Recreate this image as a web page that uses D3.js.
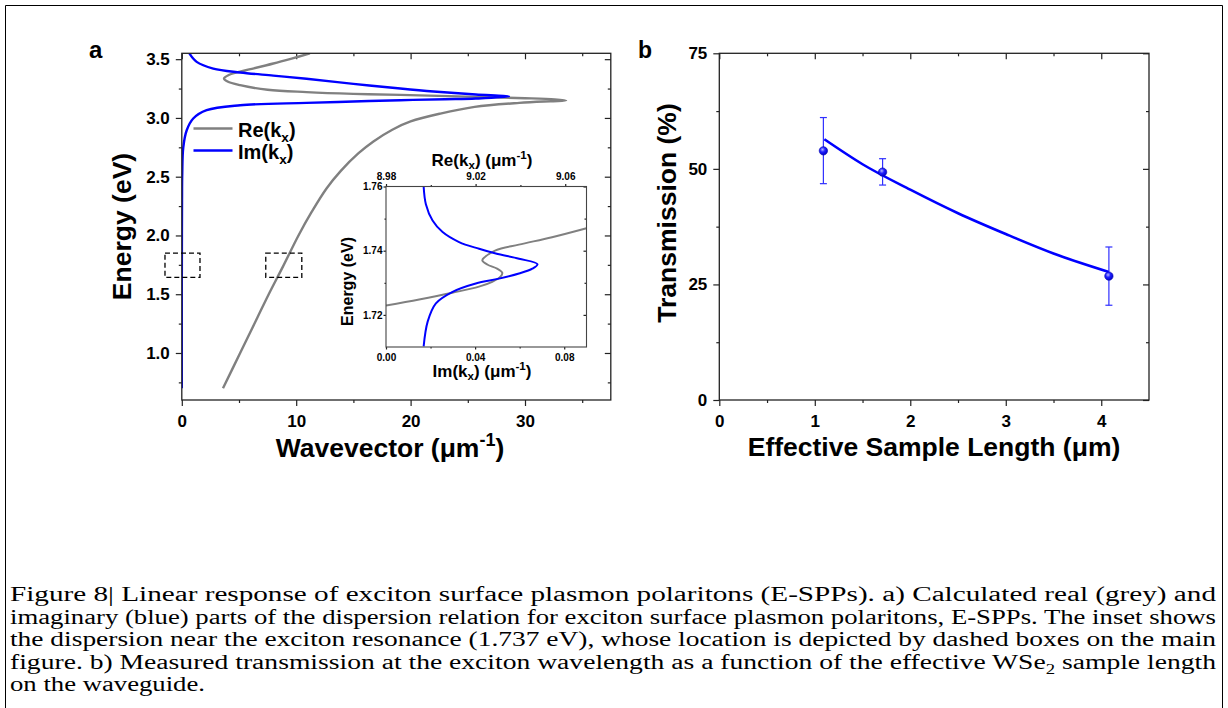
<!DOCTYPE html>
<html lang="en">
<head>
<meta charset="UTF-8">
<title>E-SPP dispersion and transmission</title>
<script src="https://d3js.org/d3.v7.min.js"></script>
<style>
    body { margin: 0; background: #fff; }
    svg text { font-family: "Liberation Sans", Arial, sans-serif; font-weight: bold; fill: #000; }
    svg text.caption { font-family: "Liberation Serif", "Times New Roman", serif; font-weight: normal; }
</style>
</head>
<body>
<svg width="1228" height="708"></svg>
<script>
// ---- panel a: dispersion, [k (um^-1), E (eV)]
const reMain = [[3.6,0.70],[5.1,1.0],[6.6,1.3],[7.6,1.5],[8.85,1.737],[10.2,2.0],[11.35,2.2],[12.65,2.4],
    [13.9,2.55],[15.45,2.7],[16.75,2.8],[18.4,2.9],[20.0,2.97],[22.6,3.037],[25.6,3.094],[29.5,3.128],
    [32.2,3.142],[33.6,3.148],
    [32.6,3.158],[30.0,3.168],[25.7,3.179],[19.1,3.196],[15.0,3.205],[10.9,3.22],[7.5,3.24],[5.1,3.279],
    [4.0,3.31],[3.69,3.336],[4.1,3.365],[4.8,3.387],[6.0,3.415],[8.0,3.463],[9.6,3.505],[11.2,3.549]];
const imMain = [[0.0,0.70],[0.0,1.5],[0.01,2.0],[0.02,2.3],[0.04,2.53],[0.13,2.75],[0.43,2.895],[1.0,2.995],
    [2.17,3.066],[5.1,3.108],[10.9,3.128],[15.0,3.14],[19.1,3.151],[23.0,3.159],[25.7,3.165],[28.6,3.182],
    [25.7,3.20],[22.0,3.225],[19.1,3.25],[15.0,3.29],[10.9,3.333],[8.0,3.36],[5.1,3.387],[2.75,3.42],
    [1.3,3.477],[0.66,3.549]];
const boxK = [[-1.47, 1.59], [7.34, 10.49]];
const boxE = [1.643, 1.85];
const aXMajor = [0, 10, 20, 30], aXMinor = [5, 15, 25, 35];
const aYMajor = [1.0, 1.5, 2.0, 2.5, 3.0, 3.5], aYMinor = [0.75, 1.25, 1.75, 2.25, 2.75, 3.25];

// ---- inset: [Re or Im k, E]
const reInset = [[8.98,1.7229],[8.9948,1.7248],[9.0096,1.7269],[9.0215,1.7288],[9.0274,1.7303],[9.0311,1.7319],
    [9.0319,1.7331],[9.0296,1.7344],[9.0252,1.7357],[9.023,1.737],[9.0241,1.738],[9.0289,1.7401],
    [9.0393,1.7419],[9.0541,1.7442],[9.0695,1.747]];
const imInset = [[0.0169,1.7102],[0.0187,1.7179],[0.0224,1.7236],[0.0299,1.7272],[0.0403,1.7298],[0.0507,1.7313],
    [0.0597,1.7329],[0.0657,1.7344],[0.068,1.7358],[0.0597,1.7375],[0.0493,1.7391],[0.0418,1.7406],
    [0.0328,1.7427],[0.0254,1.7458],[0.0209,1.7494],[0.0179,1.7545],[0.0169,1.76]];
const inImTicks = [0, 0.04, 0.08], inImMinor = [0.02, 0.06];
const inReTicks = [8.98, 9.02, 9.06], inReMinor = [9.00, 9.04];
const inETicks = [1.72, 1.74, 1.76], inEMinor = [1.73, 1.75];

// ---- panel b: transmission vs effective length
const lengths = [1.09, 1.71, 4.08];
const transmission = [53.9, 49.3, 26.8];
const errHigh = [61.1, 52.2, 33.1];
const errLow = [46.8, 46.5, 20.5];
const fitX = [1.1, 1.5, 2.0, 2.5, 3.0, 3.5, 4.08];
const fitY = [56.4, 51.0, 45.5, 40.4, 35.9, 31.7, 27.7];
const bXMajor = [0, 1, 2, 3, 4], bXMinor = [0.5, 1.5, 2.5, 3.5];
const bYMajor = [0, 25, 50, 75], bYMinor = [12.5, 37.5, 62.5];

// ---- caption
const captionLines = [
    [["Figure 8| Linear response of exciton surface plasmon polaritons (E-SPPs). a) Calculated real (grey) and"]],
    [["imaginary (blue) parts of the dispersion relation for exciton surface plasmon polaritons, E-SPPs. The inset shows"]],
    [["the dispersion near the exciton resonance (1.737 eV), whose location is depicted by dashed boxes on the main"]],
    [["figure. b) Measured transmission at the exciton wavelength as a function of the effective WSe"], ["2", "sub"], [" sample length"]],
    [["on the waveguide."]]
];

const svg = d3.select("svg");
const GREY = "#808080", BLUE = "#0000ff", AX = "#222";

function axis(parent, gen, tx, ty, values, size, pad, fmt, fs) {
    const g = parent.append("g").attr("transform", `translate(${tx},${ty})`)
        .call(gen.tickValues(values).tickSize(size).tickSizeOuter(0).tickPadding(pad)
            .tickFormat(fmt || (() => "")));
    g.select(".domain").remove();
    g.attr("font-family", null).attr("font-size", null);
    g.selectAll("line").attr("stroke", AX).attr("stroke-width", 1.2);
    g.selectAll("text").style("font-size", (fs || 10) + "px");
    return g;
}

function rich(t, parts, fs, subShift) {
    let shift = 0;
    parts.forEach(([s, kind]) => {
        const target = kind === "sup" ? -0.4 * fs : kind === "sub" ? (subShift || 0.25) * fs : 0;
        t.append("tspan").attr("dy", target - shift)
            .style("font-size", (kind ? fs * 0.68 : fs) + "px").text(s);
        shift = target;
    });
    return t;
}

// ================= panel a =================
const xA = d3.scaleLinear().domain([0, 37.5]).range([181.8, 610.8]);
const yA = d3.scaleLinear().domain([0.6, 3.55]).range([400, 53.3]);
const gA = svg.append("g");
gA.append("clipPath").attr("id", "clipA").append("rect")
    .attr("x", xA.range()[0]).attr("y", yA.range()[1])
    .attr("width", xA.range()[1] - xA.range()[0]).attr("height", yA.range()[0] - yA.range()[1]);

axis(gA, d3.axisBottom(xA), 0, 400, aXMajor, 6, 9, d3.format("d"), 17);
axis(gA, d3.axisBottom(xA), 0, 400, aXMinor, 3, 0);
axis(gA, d3.axisTop(xA), 0, 53.3, aXMajor, -6, 0);
axis(gA, d3.axisTop(xA), 0, 53.3, aXMinor, -3, 0);
axis(gA, d3.axisLeft(yA), 181.8, 0, aYMajor, 6, 6, d3.format(".1f"), 17);
axis(gA, d3.axisLeft(yA), 181.8, 0, aYMinor, 3, 0);
axis(gA, d3.axisRight(yA), 610.8, 0, aYMajor, -6, 0);
axis(gA, d3.axisRight(yA), 610.8, 0, aYMinor, -3, 0);

const lineA = d3.line().x(d => xA(d[0])).y(d => yA(d[1])).curve(d3.curveCatmullRom.alpha(0.5));
gA.append("path").attr("d", lineA(reMain)).attr("fill", "none").attr("stroke", GREY)
    .attr("stroke-width", 2.4).attr("clip-path", "url(#clipA)");
gA.append("path").attr("d", lineA(imMain)).attr("fill", "none").attr("stroke", BLUE)
    .attr("stroke-width", 2.4).attr("clip-path", "url(#clipA)");

gA.append("rect").attr("x", 181.8).attr("y", 53.3).attr("width", 429).attr("height", 346.7)
    .attr("fill", "none").attr("stroke", AX).attr("stroke-width", 1.3);

gA.selectAll(".dbox").data(boxK).join("rect").attr("class", "dbox")
    .attr("x", d => xA(d[0])).attr("width", d => xA(d[1]) - xA(d[0]))
    .attr("y", yA(boxE[1])).attr("height", yA(boxE[0]) - yA(boxE[1]))
    .attr("fill", "none").attr("stroke", "#000").attr("stroke-width", 1.3).attr("stroke-dasharray", "5,3");

// legend
const legA = [["Re", GREY, 128.5], ["Im", BLUE, 150.5]];
legA.forEach(([name, c, y]) => {
    gA.append("line").attr("x1", 193.5).attr("x2", 232.5).attr("y1", y).attr("y2", y)
        .attr("stroke", c).attr("stroke-width", 2.6);
    rich(gA.append("text").attr("x", 238).attr("y", y + 8), [[name + "(k"], ["x", "sub"], [")"]], 20);
});

gA.append("text").attr("x", 89).attr("y", 57.5).style("font-size", "24px").text("a");
rich(gA.append("text").attr("x", 390).attr("y", 457).attr("text-anchor", "middle"),
    [["Wavevector (μm"], ["-1", "sup"], [")"]], 26.5);
gA.append("text").attr("transform", "translate(131,226.5) rotate(-90)").attr("text-anchor", "middle")
    .style("font-size", "26.5px").text("Energy (eV)");

// ---- inset
const xI = d3.scaleLinear().domain([0, 0.09]).range([386, 586.5]);
const xIr = d3.scaleLinear().domain([8.98, 9.0695]).range([386, 586.5]);
const yI = d3.scaleLinear().domain([1.71, 1.76]).range([347, 186.5]);
const gI = svg.append("g");
gI.append("clipPath").attr("id", "clipI").append("rect")
    .attr("x", 386).attr("y", 186.5).attr("width", 200.5).attr("height", 160.5);
gI.append("rect").attr("x", 386).attr("y", 186.5).attr("width", 200.5).attr("height", 160.5).attr("fill", "#fff");

axis(gI, d3.axisBottom(xI), 0, 347, inImTicks, 2.5, 4, d3.format(".2f"), 10);
axis(gI, d3.axisBottom(xI), 0, 347, inImMinor, 1.5, 0);
axis(gI, d3.axisTop(xIr), 0, 186.5, inReTicks, 2.5, 4.5, d3.format(".2f"), 10);
axis(gI, d3.axisTop(xIr), 0, 186.5, inReMinor, 1.5, 0);
axis(gI, d3.axisLeft(yI), 386, 0, inETicks, 2.5, 1, d3.format(".2f"), 10);
axis(gI, d3.axisLeft(yI), 386, 0, inEMinor, 1.5, 0);
axis(gI, d3.axisRight(yI), 586.5, 0, inETicks, -3, 0);
axis(gI, d3.axisRight(yI), 586.5, 0, inEMinor, -2, 0);

const lineIr = d3.line().x(d => xIr(d[0])).y(d => yI(d[1])).curve(d3.curveCatmullRom.alpha(0.5));
const lineIi = d3.line().x(d => xI(d[0])).y(d => yI(d[1])).curve(d3.curveCatmullRom.alpha(0.5));
gI.append("path").attr("d", lineIr(reInset)).attr("fill", "none").attr("stroke", GREY)
    .attr("stroke-width", 2).attr("clip-path", "url(#clipI)");
gI.append("path").attr("d", lineIi(imInset)).attr("fill", "none").attr("stroke", BLUE)
    .attr("stroke-width", 2).attr("clip-path", "url(#clipI)");
gI.append("rect").attr("x", 386).attr("y", 186.5).attr("width", 200.5).attr("height", 160.5)
    .attr("fill", "none").attr("stroke", "#444").attr("stroke-width", 1.1);

rich(gI.append("text").attr("x", 482).attr("y", 166).attr("text-anchor", "middle"),
    [["Re(k"], ["x", "sub"], [") (μm"], ["-1", "sup"], [")"]], 17, 0.18);
rich(gI.append("text").attr("x", 482).attr("y", 377).attr("text-anchor", "middle"),
    [["Im(k"], ["x", "sub"], [") (μm"], ["-1", "sup"], [")"]], 17, 0.18);
gI.append("text").attr("transform", "translate(353,281.5) rotate(-90)").attr("text-anchor", "middle")
    .style("font-size", "16px").text("Energy (eV)");

// ================= panel b =================
const xB = d3.scaleLinear().domain([0, 4.5]).range([719.3, 1149]);
const yB = d3.scaleLinear().domain([0, 75]).range([400, 53.3]);
const gB = svg.append("g");

axis(gB, d3.axisBottom(xB), 0, 400, bXMajor, 6, 9, d3.format("d"), 17);
axis(gB, d3.axisBottom(xB), 0, 400, bXMinor, 3, 0);
axis(gB, d3.axisTop(xB), 0, 53.3, bXMajor, -6, 0);
axis(gB, d3.axisTop(xB), 0, 53.3, bXMinor, -3, 0);
axis(gB, d3.axisLeft(yB), 719.3, 0, bYMajor, 6, 6, d3.format("d"), 17);
axis(gB, d3.axisLeft(yB), 719.3, 0, bYMinor, 3, 0);
axis(gB, d3.axisRight(yB), 1149, 0, bYMajor, -6, 0);
axis(gB, d3.axisRight(yB), 1149, 0, bYMinor, -3, 0);
gB.append("rect").attr("x", 719.3).attr("y", 53.3).attr("width", 1149 - 719.3).attr("height", 346.7)
    .attr("fill", "none").attr("stroke", AX).attr("stroke-width", 1.3);

const fitLine = d3.line().x(d => xB(d[0])).y(d => yB(d[1])).curve(d3.curveMonotoneX);
gB.append("path").attr("d", fitLine(fitX.map((x, i) => [x, fitY[i]])))
    .attr("fill", "none").attr("stroke", BLUE).attr("stroke-width", 2.6);

const pts = lengths.map((x, i) => ({ x, y: transmission[i], hi: errHigh[i], lo: errLow[i] }));
const eb = gB.selectAll(".eb").data(pts).join("g").attr("class", "eb").attr("stroke", "#2f2fff").attr("stroke-width", 1.2);
eb.append("line").attr("x1", d => xB(d.x)).attr("x2", d => xB(d.x)).attr("y1", d => yB(d.hi)).attr("y2", d => yB(d.lo));
eb.append("line").attr("x1", d => xB(d.x) - 3.5).attr("x2", d => xB(d.x) + 3.5).attr("y1", d => yB(d.hi)).attr("y2", d => yB(d.hi));
eb.append("line").attr("x1", d => xB(d.x) - 3.5).attr("x2", d => xB(d.x) + 3.5).attr("y1", d => yB(d.lo)).attr("y2", d => yB(d.lo));

const grad = svg.append("defs").append("radialGradient").attr("id", "sphere")
    .attr("cx", "40%").attr("cy", "35%").attr("r", "65%");
grad.append("stop").attr("offset", "0%").attr("stop-color", "#b8b8ff");
grad.append("stop").attr("offset", "45%").attr("stop-color", "#2020ff");
grad.append("stop").attr("offset", "100%").attr("stop-color", "#0000c8");
gB.selectAll(".pt").data(pts).join("circle").attr("class", "pt")
    .attr("cx", d => xB(d.x)).attr("cy", d => yB(d.y)).attr("r", 4.2)
    .attr("fill", "url(#sphere)").attr("stroke", "#0000b0").attr("stroke-width", 0.6);

gB.append("text").attr("x", 638).attr("y", 57.5).style("font-size", "23px").text("b");
gB.append("text").attr("x", 934).attr("y", 456).attr("text-anchor", "middle")
    .style("font-size", "26.5px").text("Effective Sample Length (μm)");
gB.append("text").attr("transform", "translate(675.5,213) rotate(-90)").attr("text-anchor", "middle")
    .style("font-size", "26.5px").text("Transmission (%)");

// ================= caption & frame =================
svg.append("path").attr("d", "M5.5,720V5.5H1222.5V720").attr("fill", "none").attr("stroke", "#000").attr("stroke-width", 1);

const capX = 10, capW = 1206, capFs = 20.5;
const capNodes = captionLines.map((parts, i) => {
    const t = svg.append("text").attr("class", "caption").attr("x", capX).attr("y", 601 + i * 22.5);
    rich(t, parts, capFs);
    return t;
});
const stretch = capW / capNodes[1].node().getComputedTextLength();
capNodes.forEach((t, i) => {
    const len = i < 4 ? capW : t.node().getComputedTextLength() * stretch;
    t.attr("textLength", len).attr("lengthAdjust", "spacingAndGlyphs");
});
</script>
</body>
</html>
